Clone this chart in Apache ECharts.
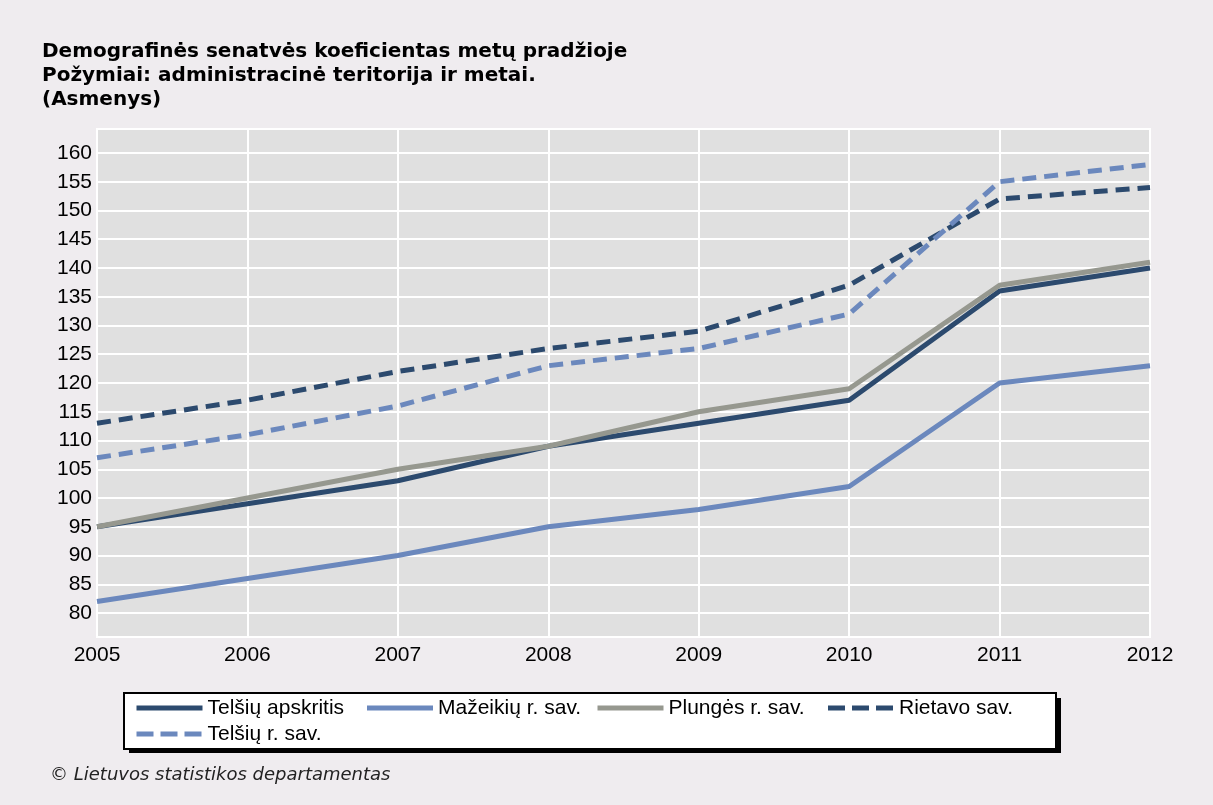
<!DOCTYPE html>
<html>
<head>
<meta charset="utf-8">
<script src="https://cdn.jsdelivr.net/npm/echarts@6/dist/echarts.min.js"></script>
<style>
  html, body { margin: 0; padding: 0; background: #efecef; }
  #chart { width: 1213px; height: 805px; }
</style>
</head>
<body>
<div id="chart"></div>
<script>
// data
var years = ['2005', '2006', '2007', '2008', '2009', '2010', '2011', '2012'];
var yTicks = [80, 85, 90, 95, 100, 105, 110, 115, 120, 125, 130, 135, 140, 145, 150, 155, 160];

var telsiuApskritis = [95, 99, 103, 109, 113, 117, 136, 140];
var mazeikiu = [82, 86, 90, 95, 98, 102, 120, 123];
var plunges = [95, 100, 105, 109, 115, 119, 137, 141];
var rietavo = [113, 117, 122, 126, 129, 137, 152, 154];
var telsiuRSav = [107, 111, 116, 123, 126, 132, 155, 158];

var names = ['Telšių apskritis', 'Mažeikių r. sav.', 'Plungės r. sav.', 'Rietavo sav.', 'Telšių r. sav.'];

var dark = '#2c4a6e';
var light = '#6b88bd';
var gray = '#96988f';

var chart = echarts.init(document.getElementById('chart'));

function line(name, data, color, dashed) {
  return {
    name: name,
    type: 'line',
    data: data,
    symbol: 'none',
    smooth: false,
    color: color,
    lineStyle: { color: color, width: 5, type: dashed ? [14, 8] : 'solid', cap: 'butt' }
  };
}

// legend entries, the dashed ones get a shorter dash like the original
var legendData = names.map(function (n, i) {
  var item = { name: n };
  if (i >= 3) item.lineStyle = { type: [17, 7] };
  return item;
});

var option = {
  backgroundColor: '#efecef',
  animation: false,
  title: [
    {
      text: 'Demografinės senatvės koeficientas metų pradžioje\nPožymiai: administracinė teritorija ir metai.\n(Asmenys)',
      left: 42,
      top: 40,
      padding: 0,
      textStyle: {
        fontFamily: 'DejaVu Sans',
        fontWeight: 'bold',
        fontSize: 20,
        lineHeight: 24,
        color: '#000'
      }
    },
    {
      text: '© Lietuvos statistikos departamentas',
      left: 50,
      top: 766,
      padding: 0,
      textStyle: {
        fontFamily: 'DejaVu Sans',
        fontStyle: 'italic',
        fontWeight: 'normal',
        fontSize: 18,
        color: '#222'
      }
    }
  ],
  // black drop shadow behind the legend box
  graphic: [
    {
      type: 'rect',
      z: 0,
      shape: { x: 129, y: 698, width: 932, height: 55 },
      style: { fill: '#000' }
    }
  ],
  legend: {
    data: legendData,
    left: 124,
    top: 693,
    width: 930,
    orient: 'horizontal',
    padding: [4, 4, 4, 10],
    itemGap: 4,
    itemWidth: 66,
    itemHeight: 14,
    backgroundColor: '#fff',
    borderColor: '#000',
    borderWidth: 2,
    borderRadius: 0,
    itemStyle: { opacity: 0 },
    lineStyle: { width: 5 },
    textStyle: {
      fontFamily: 'Liberation Sans',
      fontSize: 21,
      lineHeight: 22,
      color: '#000',
      width: 153
    }
  },
  grid: {
    show: true,
    left: 97,
    right: 63,
    top: 129,
    bottom: 168,
    backgroundColor: '#e0e0e0',
    borderColor: '#fff',
    borderWidth: 2
  },
  xAxis: {
    type: 'category',
    data: years,
    boundaryGap: false,
    axisLine: { show: false },
    axisTick: { show: false },
    axisLabel: {
      margin: 8,
      fontFamily: 'Liberation Sans',
      fontSize: 21,
      color: '#000'
    },
    splitLine: { show: true, lineStyle: { color: '#fff', width: 2 } }
  },
  yAxis: {
    type: 'value',
    min: 75.83,
    max: 164.17,
    axisLine: { show: false },
    axisTick: { show: false, customValues: yTicks },
    axisLabel: {
      customValues: yTicks,
      margin: 5,
      fontFamily: 'Liberation Sans',
      fontSize: 21,
      color: '#000'
    },
    splitLine: { show: true, lineStyle: { color: '#fff', width: 2 } }
  },
  series: [
    line(names[0], telsiuApskritis, dark, false),
    line(names[1], mazeikiu, light, false),
    line(names[2], plunges, gray, false),
    line(names[3], rietavo, dark, true),
    line(names[4], telsiuRSav, light, true)
  ]
};

chart.setOption(option);
</script>
</body>
</html>
